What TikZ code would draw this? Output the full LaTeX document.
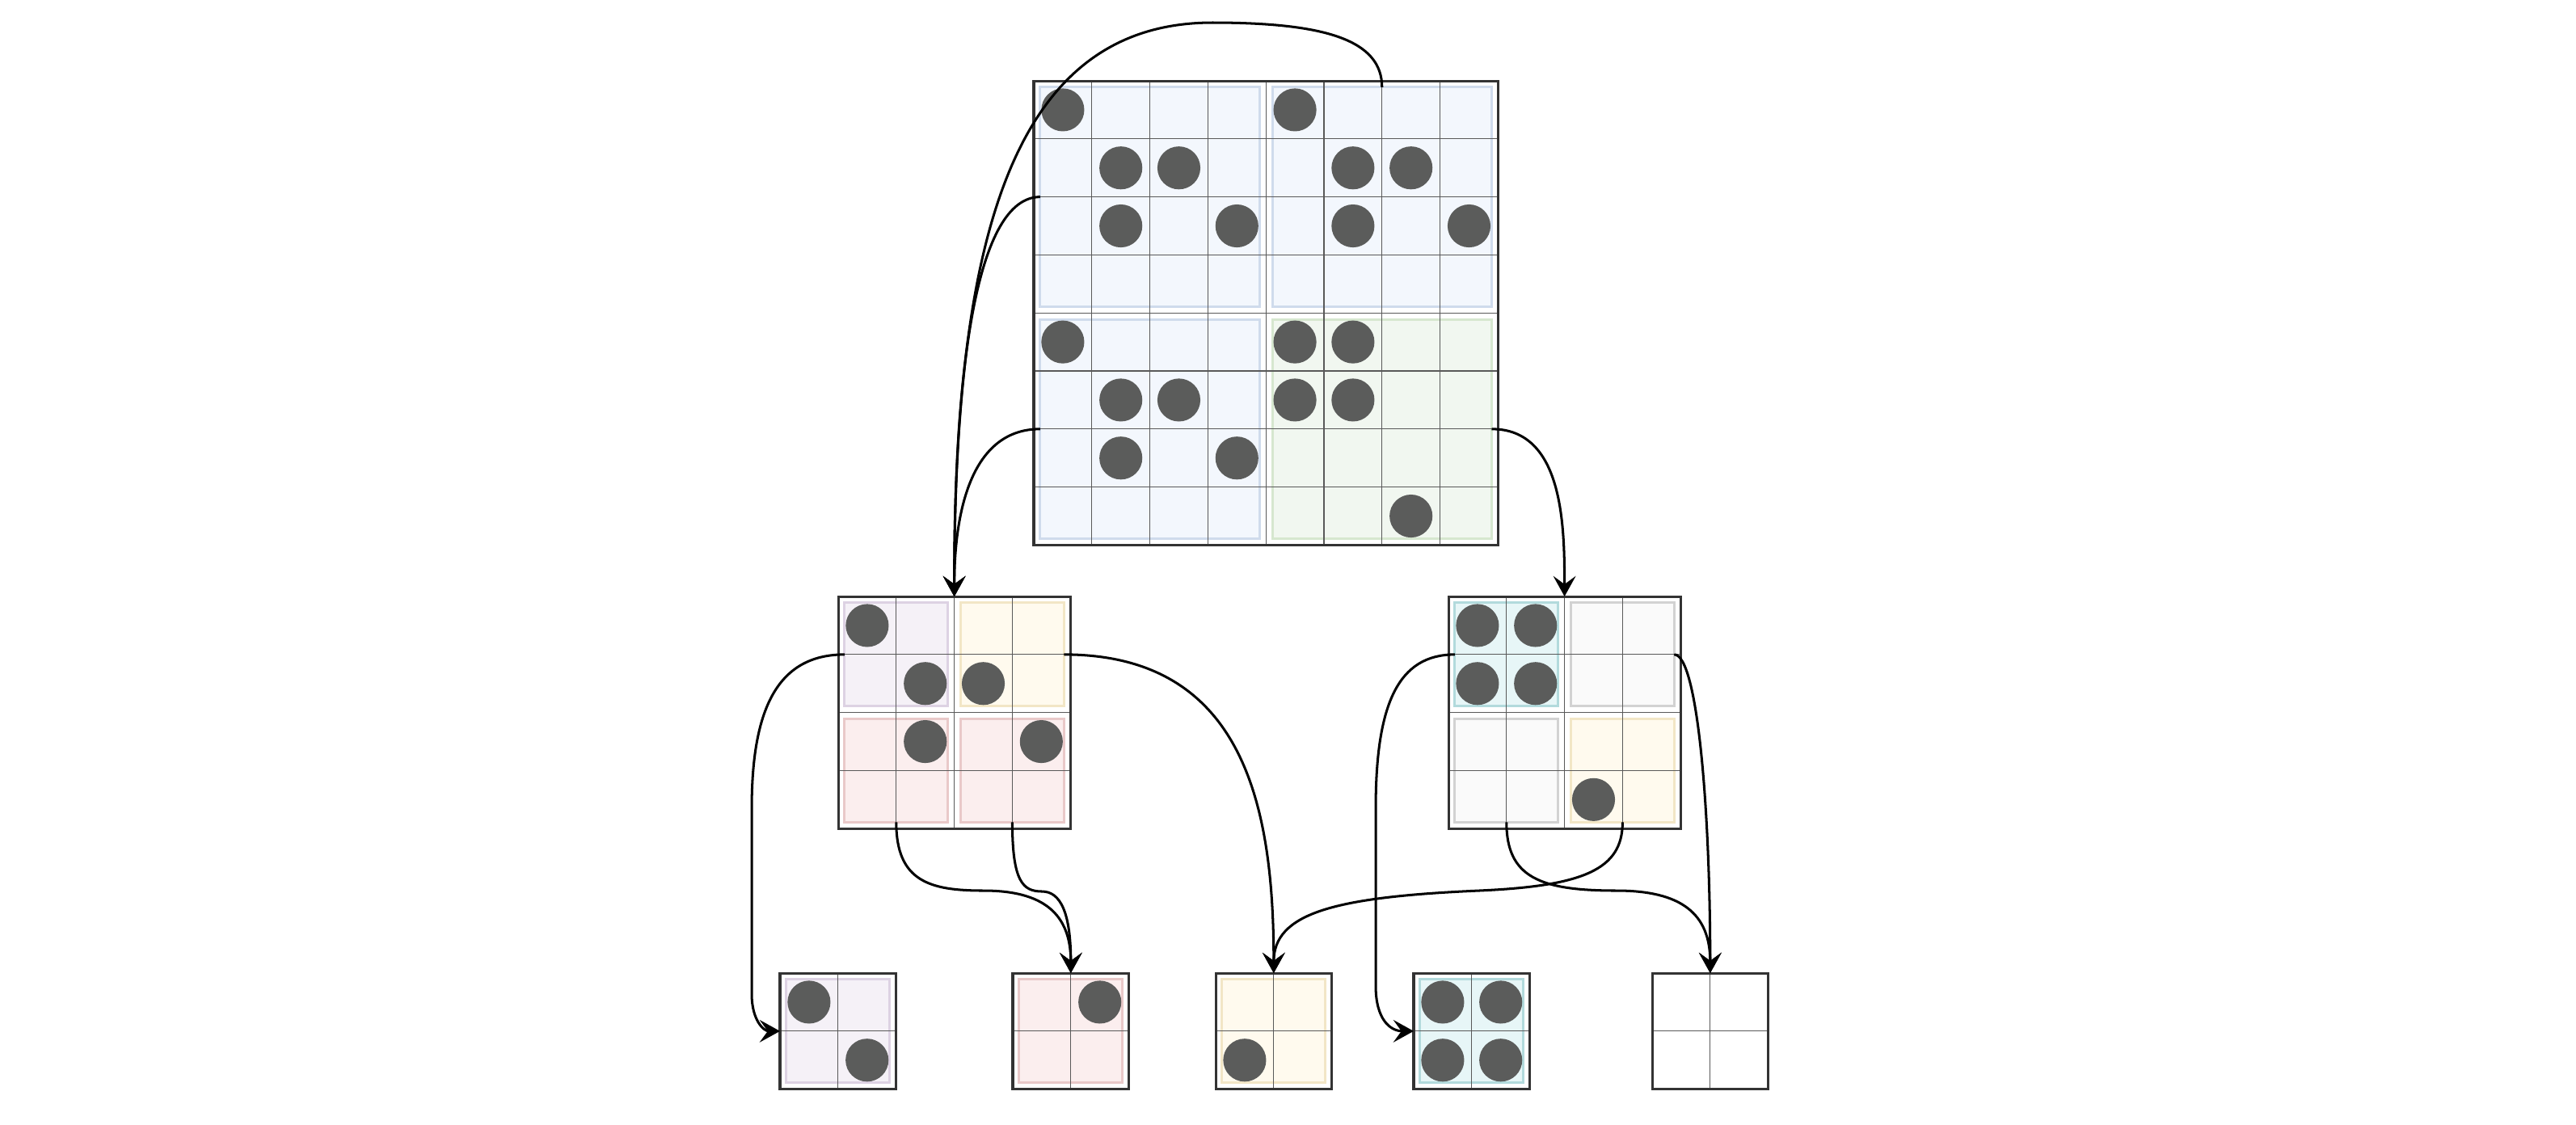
\documentclass[tikz,border=0pt]{standalone}
\usetikzlibrary{arrows.meta}
\definecolor{dotc}{RGB}{91,92,91}
\definecolor{blueF}{HTML}{F3F7FD}\definecolor{blueD}{HTML}{CFDBEC}
\definecolor{greenF}{HTML}{F1F7F0}\definecolor{greenD}{HTML}{D6E7CF}
\definecolor{purpleF}{HTML}{F5F1F7}\definecolor{purpleD}{HTML}{DDD2E3}
\definecolor{yellowF}{HTML}{FFFAEE}\definecolor{yellowD}{HTML}{F2E6C6}
\definecolor{redF}{HTML}{FBEEEE}\definecolor{redD}{HTML}{E9C9C9}
\definecolor{cyanF}{HTML}{E7F6F7}\definecolor{cyanD}{HTML}{B2DADC}
\definecolor{grayF}{HTML}{FAFAFA}\definecolor{grayD}{HTML}{D2D2D2}
\tikzset{
  obox/.style={draw=black!80, line width=1.2pt, inner sep=0pt, outer sep=0pt, anchor=north west, minimum size=#1},
  qbox/.style 2 args={draw=#2, fill=#1, line width=1.2pt, inner sep=0pt, outer sep=0pt, anchor=north west},
  gline/.style={draw=black!65, line width=0.5pt},
  dotst/.style={fill=dotc},
  conn/.style={draw=black, line width=1.2pt, -{Stealth[length=10pt,width=11pt,inset=4pt]}},
}
\newcommand{\cellgrid}[2]{\foreach \i in {1,...,#1}{\draw[gline] (\i,0) -- (\i,-#2); \draw[gline] (0,-\i) -- (#2,-\i);}}
\newcommand{\putdots}[1]{\foreach \c/\r in {#1}{\fill[dotst] ({\c-0.5},{0.5-\r}) circle (0.37);}}
\begin{document}
\begin{tikzpicture}
\fill[white] (0,0) rectangle (44.387,-19.373);
\useasboundingbox (0,0) rectangle (44.387,-19.373);

% big box
\begin{scope}[shift={(17.813,-1.393)}]
  \node[qbox={blueF}{blueD}, minimum size=3.78cm] (bTL) at (0.11,-0.11) {};
  \node[qbox={blueF}{blueD}, minimum size=3.78cm] (bTR) at (4.11,-0.11) {};
  \node[qbox={blueF}{blueD}, minimum size=3.78cm] (bBL) at (0.11,-4.11) {};
  \node[qbox={greenF}{greenD}, minimum size=3.78cm] (bBR) at (4.11,-4.11) {};
  \cellgrid{7}{8}
  \putdots{1/1,5/1,2/2,3/2,6/2,7/2,2/3,4/3,6/3,8/3,1/5,5/5,6/5,2/6,3/6,5/6,6/6,2/7,4/7,7/8}
  \node[obox=8cm] (big) at (0,0) {};
\end{scope}

% middle left
\begin{scope}[shift={(14.443,-10.279)}]
  \node[qbox={purpleF}{purpleD}, minimum size=1.78cm] (mlTL) at (0.11,-0.11) {};
  \node[qbox={yellowF}{yellowD}, minimum size=1.78cm] (mlTR) at (2.11,-0.11) {};
  \node[qbox={redF}{redD}, minimum size=1.78cm] (mlBL) at (0.11,-2.11) {};
  \node[qbox={redF}{redD}, minimum size=1.78cm] (mlBR) at (2.11,-2.11) {};
  \cellgrid{3}{4}
  \putdots{1/1,2/2,3/2,2/3,4/3}
  \node[obox=4cm] (ml) at (0,0) {};
\end{scope}

% middle right
\begin{scope}[shift={(24.958,-10.279)}]
  \node[qbox={cyanF}{cyanD}, minimum size=1.78cm] (mrTL) at (0.11,-0.11) {};
  \node[qbox={grayF}{grayD}, minimum size=1.78cm] (mrTR) at (2.11,-0.11) {};
  \node[qbox={grayF}{grayD}, minimum size=1.78cm] (mrBL) at (0.11,-2.11) {};
  \node[qbox={yellowF}{yellowD}, minimum size=1.78cm] (mrBR) at (2.11,-2.11) {};
  \cellgrid{3}{4}
  \putdots{1/1,2/1,1/2,2/2,3/4}
  \node[obox=4cm] (mr) at (0,0) {};
\end{scope}

% bottom row
\begin{scope}[shift={(13.440,-16.769)}]
  \node[qbox={purpleF}{purpleD}, minimum size=1.78cm] (q1) at (0.11,-0.11) {};
  \cellgrid{1}{2}
  \putdots{1/1,2/2}
  \node[obox=2cm] (b1) at (0,0) {};
\end{scope}
\begin{scope}[shift={(17.451,-16.769)}]
  \node[qbox={redF}{redD}, minimum size=1.78cm] (q2) at (0.11,-0.11) {};
  \cellgrid{1}{2}
  \putdots{2/1}
  \node[obox=2cm] (b2) at (0,0) {};
\end{scope}
\begin{scope}[shift={(20.947,-16.769)}]
  \node[qbox={yellowF}{yellowD}, minimum size=1.78cm] (q3) at (0.11,-0.11) {};
  \cellgrid{1}{2}
  \putdots{1/2}
  \node[obox=2cm] (b3) at (0,0) {};
\end{scope}
\begin{scope}[shift={(24.359,-16.769)}]
  \node[qbox={cyanF}{cyanD}, minimum size=1.78cm] (q4) at (0.11,-0.11) {};
  \cellgrid{1}{2}
  \putdots{1/1,2/1,1/2,2/2}
  \node[obox=2cm] (b4) at (0,0) {};
\end{scope}
\begin{scope}[shift={(28.468,-16.769)}]
  \cellgrid{1}{2}
  \node[obox=2cm] (b5) at (0,0) {};
\end{scope}

% waypoints
\coordinate (c1m) at (20.891,-0.390);
\coordinate (c5a) at (12.953,-13.928);
\coordinate (c5b) at (12.953,-17.131);
\coordinate (c7m) at (16.950,-15.348);
\coordinate (c8m) at (17.953,-15.362);
\coordinate (c9a) at (23.705,-13.928);
\coordinate (c9b) at (23.705,-16.992);
\coordinate (c11m) at (27.855,-15.348);
\coordinate (c12m) at (25.487,-15.348);

% connectors
\draw[conn] (bTR.north) .. controls +(0,0.81) and +(1.95,0) .. (c1m) .. controls +(-3.48,0) and +(0,6.1) .. (ml.north);
\draw[conn] (bTL.west) .. controls +(-1.09,0) and +(0,4.0) .. (ml.north);
\draw[conn] (bBL.west) to[out=180,in=90] (ml.north);
\draw[conn] (bBR.east) to[out=0,in=90] (mr.north);
\draw[conn] (mlTL.west) .. controls +(-1.18,0) and +(0,1.67) .. (c5a) -- (c5b) .. controls +(0,-0.45) and +(-0.28,0) .. (b1.west);
\draw[conn] (mlTR.east) .. controls +(3.12,0) and +(0,2.84) .. (b3.north);
\draw[conn] (mlBL.south) .. controls +(0,-1.02) and +(-0.93,0) .. (c7m) .. controls +(1.02,0) and +(0,1.03) .. (b2.north);
\draw[conn] (mlBR.south) .. controls +(0,-1.02) and +(-0.33,0) .. (c8m) .. controls +(0.32,0) and +(0,1.04) .. (b2.north);
\draw[conn] (mrTL.west) .. controls +(-0.97,0) and +(0,1.81) .. (c9a) -- (c9b) .. controls +(0,-0.58) and +(-0.40,0) .. (b4.west);
\draw[conn] (mrTR.east) .. controls +(0.4,0) and +(0,2.84) .. (b5.north);
\draw[conn] (mrBL.south) .. controls +(0,-0.95) and +(-1.32,0) .. (c11m) .. controls +(1.11,0) and +(0,1.03) .. (b5.north);
\draw[conn] (mrBR.south) .. controls +(0,-0.81) and +(1.81,0.08) .. (c12m) .. controls +(-2.51,-0.11) and +(0,1.03) .. (b3.north);
\end{tikzpicture}
\end{document}
